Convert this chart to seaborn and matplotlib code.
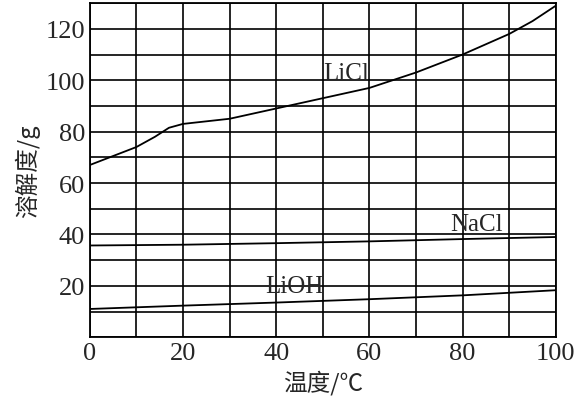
import numpy as np
import seaborn as sns
import matplotlib.pyplot as plt

temp_licl = [0, 5, 10, 14, 17, 20, 30, 40, 50, 60, 65, 70, 80, 90, 95, 100]
sol_licl = [67, 70.5, 74, 78, 81.5, 83, 85, 89, 93, 97, 100, 103, 110, 118, 123, 129]
temp_nacl = [0, 20, 40, 60, 80, 100]
sol_nacl = [35.7, 36, 36.6, 37.3, 38.2, 39]
temp_lioh = [0, 20, 40, 60, 80, 100]
sol_lioh = [11, 12.3, 13.5, 14.8, 16.3, 18.3]

sns.set_style('white')
plt.rcParams['font.family'] = ['Liberation Serif', 'Noto Sans CJK SC']

fig, ax = plt.subplots(figsize=(5.79, 4.10), dpi=100)
for x, y in [(temp_licl, sol_licl), (temp_nacl, sol_nacl), (temp_lioh, sol_lioh)]:
    sns.lineplot(x=x, y=y, ax=ax, color='black', lw=1.3)

ax.set_xlim(0, 100)
ax.set_ylim(0, 130)
ax.set_xticks(np.arange(0, 101, 10), minor=True)
ax.set_xticks(range(0, 101, 20))
ax.set_yticks(np.arange(0, 131, 10), minor=True)
ax.set_yticks(range(20, 121, 20))
ax.grid(True, which='both', color='black', lw=1.2)
for s in ax.spines.values():
    s.set_color('black')
    s.set_linewidth(1.3)
ax.tick_params(labelsize=19, length=0, which='both')
ax.set_xlabel('温度/℃', fontsize=17, family=['Noto Sans CJK SC', 'DejaVu Sans'])
ax.set_ylabel('溶解度/g', fontsize=17, family=['Noto Sans CJK SC', 'DejaVu Sans'])

ax.text(55, 103, 'LiCl', fontsize=18, ha='center', va='center')
ax.text(83, 44, 'NaCl', fontsize=18, ha='center', va='center')
ax.text(44, 20, 'LiOH', fontsize=18, ha='center', va='center')

plt.subplots_adjust(left=0.155, right=0.96, bottom=0.175, top=0.99)
plt.savefig('out.png', dpi=100)
